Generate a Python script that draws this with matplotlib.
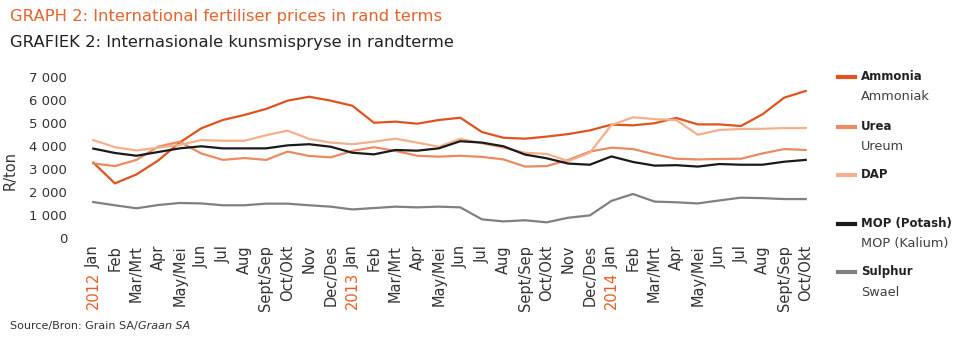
import matplotlib
matplotlib.use("Agg")
import matplotlib.pyplot as plt
from matplotlib.lines import Line2D

# data: Jan 2012 .. Oct 2014, R/ton
months = ["Jan", "Feb", "Mar/Mrt", "Apr", "May/Mei", "Jun", "Jul", "Aug",
          "Sept/Sep", "Oct/Okt", "Nov", "Dec/Des"]
month_labels = (months * 3)[:34]
years = {0: "2012", 12: "2013", 24: "2014"}

ammonia = [3270, 2370, 2760, 3360, 4140, 4760, 5120, 5340, 5600, 5960, 6130, 5960,
           5740, 5000, 5050, 4960, 5120, 5220, 4600, 4350, 4310, 4400, 4510, 4670,
           4920, 4890, 4980, 5210, 4930, 4930, 4860, 5370, 6090, 6380]
urea = [3240, 3120, 3390, 3960, 4180, 3670, 3390, 3470, 3390, 3750, 3560, 3500,
        3780, 3940, 3780, 3570, 3530, 3570, 3520, 3410, 3100, 3120, 3390, 3750,
        3920, 3860, 3630, 3440, 3410, 3430, 3440, 3670, 3860, 3820]
dap = [4250, 3940, 3800, 3920, 4040, 4250, 4220, 4220, 4460, 4660, 4300, 4140,
       4070, 4180, 4310, 4140, 3960, 4300, 4110, 3920, 3700, 3650, 3340, 3700,
       4900, 5240, 5160, 5120, 4480, 4690, 4730, 4740, 4770, 4770]
mop = [3880, 3690, 3570, 3730, 3890, 3980, 3890, 3890, 3890, 4020, 4070, 3960,
       3700, 3630, 3820, 3790, 3890, 4200, 4140, 3980, 3620, 3460, 3230, 3180,
       3540, 3300, 3140, 3160, 3100, 3210, 3180, 3180, 3310, 3390]
sulphur = [1560, 1420, 1290, 1430, 1520, 1500, 1420, 1420, 1490, 1490, 1420, 1360,
           1240, 1300, 1360, 1330, 1360, 1330, 810, 720, 770, 680, 880, 980,
           1610, 1910, 1580, 1550, 1500, 1630, 1750, 1730, 1690, 1690]

y_ticks = [0, 1000, 2000, 3000, 4000, 5000, 6000, 7000]
y_labels = ["0", "1 000", "2 000", "3 000", "4 000", "5 000", "6 000", "7 000"]

series = [
    ("Ammonia", "Ammoniak", ammonia, "#e0531f"),
    ("Urea", "Ureum", urea, "#ec8a60"),
    ("DAP", "", dap, "#f4b08a"),
    ("MOP (Potash)", "MOP (Kalium)", mop, "#1a1a1a"),
    ("Sulphur", "Swael", sulphur, "#808080"),
]

W, H = 960, 341
fig = plt.figure(figsize=(W / 100, H / 100), dpi=100)
ax = fig.add_axes([82.5 / W, (H - 238) / H, (816.5 - 82.5) / W, (238 - 76.7) / H])

x = list(range(len(month_labels)))
for name, afr, vals, col in series:
    ax.plot(x, vals, color=col, lw=1.6, solid_joinstyle="round")

ax.set_xlim(-0.5, 33.5)
ax.set_ylim(0, 7000)
ax.set_yticks(y_ticks)
ax.set_yticklabels(y_labels, fontsize=9.5, color="#333333")
ax.set_xticks(x)
ax.set_xticklabels(month_labels, rotation=90, fontsize=10.5, color="#333333",
                   ha="center", va="top")
ax.tick_params(length=0)
ax.tick_params(axis="x", pad=5)
ax.tick_params(axis="y", pad=11)
for s in ax.spines.values():
    s.set_visible(False)
ax.set_ylabel("R/ton", fontsize=10.5, color="#333333")
ax.yaxis.set_label_coords(18 / W, 0.5, transform=fig.transFigure)

# titles
fig.text(10 / W, 1 - 17 / H, "GRAPH 2: International fertiliser prices in rand terms",
         fontsize=11.8, color="#e8622c", va="center")
fig.text(10 / W, 1 - 42 / H, "GRAFIEK 2: Internasionale kunsmispryse in randterme",
         fontsize=11.8, color="#222222", va="center")

# legend
leg_y = [(77, 97), (127, 146), (175, None), (224, 243), (272, 292)]
for (name, afr, vals, col), (y1, y2) in zip(series, leg_y):
    fig.add_artist(Line2D([838 / W, 855 / W], [1 - y1 / H, 1 - y1 / H],
                          color=col, lw=3, transform=fig.transFigure))
    fig.text(861 / W, 1 - y1 / H, name, fontsize=8.5, fontweight="bold",
             color="#222222", va="center")
    if y2:
        fig.text(861 / W, 1 - y2 / H, afr, fontsize=9.3, color="#404040", va="center")

src = fig.text(10 / W, 1 - 326 / H, "Source/Bron: Grain SA/", fontsize=8,
               color="#333333", va="center")

fig.canvas.draw()
r = fig.canvas.get_renderer()
labels = ax.get_xticklabels()
for i, yr in years.items():
    bb = labels[i].get_window_extent(r)
    fig.text((bb.x0 + bb.x1) / 2 / W, (bb.y0 - 4) / H, yr, rotation=90,
             fontsize=10.5, color="#f05a22", ha="center", va="top")
bb = src.get_window_extent(r)
fig.text(bb.x1 / W, 1 - 326 / H, "Graan SA", fontsize=8, style="italic",
         color="#333333", va="center")

fig.savefig("out.png", dpi=100)
